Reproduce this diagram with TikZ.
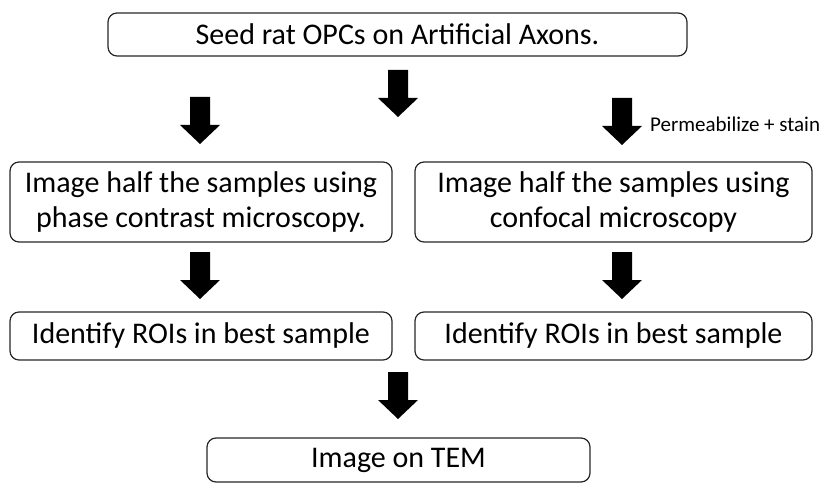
\documentclass[tikz,border=0pt]{standalone}
\usepackage{fontspec}
\setmainfont{Carlito}
\tikzset{
  box/.style={draw=black!85, line width=1.2pt, rounded corners=9pt, align=center,
    inner sep=0pt, font=\fontsize{30}{35}\selectfont},
  blockarrow/.pic={\fill[black] (-10,0) -- (10,0) -- (10,28) -- (20,28) -- (0,47) -- (-20,28) -- (-10,28) -- cycle;},
  lbl/.style={font=\fontsize{21}{24}\selectfont, anchor=west, inner sep=0pt}
}
\begin{document}
\begin{tikzpicture}[x=1pt,y=-1pt]
\useasboundingbox (0,0) rectangle (820,484);
\node[box, minimum width=579pt, minimum height=43pt] (seed) at (397.5,34.5) {Seed rat OPCs on Artificial Axons.};
\node[box, minimum width=382pt, minimum height=80pt] (phase) at (201,202) {Image half the samples using\\phase contrast microscopy.};
\node[box, minimum width=397pt, minimum height=80pt] (conf) at (613.5,202) {Image half the samples using\\confocal microscopy};
\node[box, minimum width=382pt, minimum height=48pt] (roiL) at (201,336) {Identify ROIs in best sample};
\node[box, minimum width=397pt, minimum height=48pt] (roiR) at (613.5,336) {Identify ROIs in best sample};
\node[box, minimum width=383pt, minimum height=44pt] (tem) at (398.5,460) {Image on TEM};
\pic at (398,70) {blockarrow};
\pic at (200,97) {blockarrow};
\pic at (622,98) {blockarrow};
\pic at (200,252) {blockarrow};
\pic at (622,252) {blockarrow};
\pic at (398,372) {blockarrow};
\node[lbl] (perm) at (650,124) {Permeabilize + stain};
\end{tikzpicture}
\end{document}
